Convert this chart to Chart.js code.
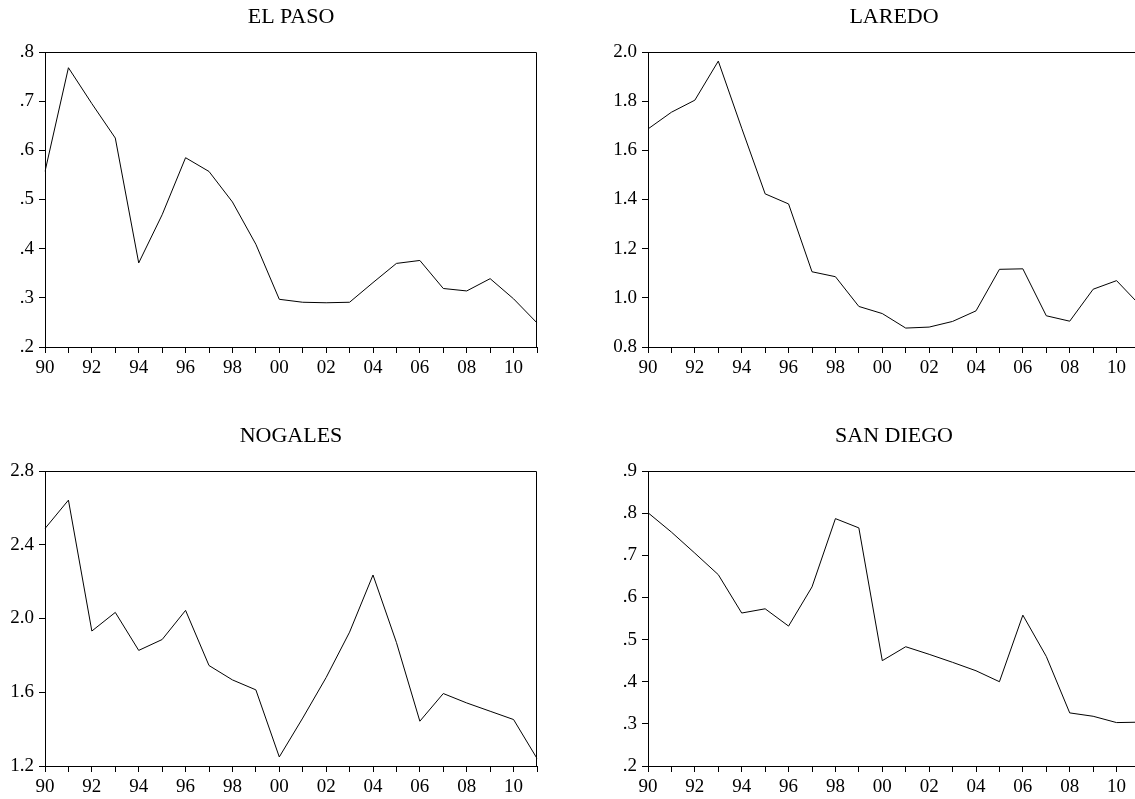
<!DOCTYPE html>
<html><head><meta charset="utf-8">
<script src="https://cdn.jsdelivr.net/npm/chart.js@4"></script>
<style>
html,body{margin:0;padding:0;background:#fff;overflow:hidden;width:1135px;height:799px;position:relative;}
canvas{position:absolute;}
</style></head><body>
<canvas id="c1" width="570" height="390" style="left:0;top:0"></canvas>
<canvas id="c2" width="570" height="390" style="left:600px;top:0"></canvas>
<canvas id="c3" width="570" height="390" style="left:0;top:419px"></canvas>
<canvas id="c4" width="570" height="390" style="left:600px;top:419px"></canvas>
<script>
const yearLabels = ['90','91','92','93','94','95','96','97','98','99','00','01','02','03','04','05','06','07','08','09','10','11'];

const elPaso   = [0.557,0.768,0.695,0.625,0.371,0.469,0.585,0.557,0.495,0.409,0.297,0.291,0.290,0.291,0.331,0.370,0.376,0.319,0.314,0.339,0.298,0.249];
const laredo   = [1.687,1.755,1.804,1.963,1.690,1.423,1.382,1.106,1.086,0.965,0.936,0.877,0.881,0.904,0.947,1.116,1.118,0.927,0.905,1.035,1.070,0.970];
const nogales  = [2.488,2.642,1.932,2.033,1.827,1.886,2.044,1.745,1.667,1.613,1.249,1.460,1.680,1.926,2.236,1.870,1.443,1.593,1.542,1.497,1.452,1.241];
const sanDiego = [0.801,0.755,0.705,0.654,0.563,0.573,0.532,0.625,0.787,0.765,0.450,0.483,0.465,0.446,0.426,0.400,0.558,0.460,0.326,0.318,0.303,0.304];

const elPasoTicks   = ['.2','.3','.4','.5','.6','.7','.8'];
const laredoTicks   = ['0.8','1.0','1.2','1.4','1.6','1.8','2.0'];
const nogalesTicks  = ['1.2','1.6','2.0','2.4','2.8'];
const sanDiegoTicks = ['.2','.3','.4','.5','.6','.7','.8','.9'];

const FONT = '"Liberation Serif", "Times New Roman", serif';
const FS = 19;
const TITLE_FS = 22;

const framePlugin = {
  id: 'frame',
  afterDraw(chart, args, opts) {
    const ctx = chart.ctx, a = chart.chartArea;
    ctx.save();
    ctx.strokeStyle = '#000';
    ctx.lineWidth = 1;
    const l = Math.round(a.left) + 0.5, r = Math.round(a.right) - 0.5;
    const t = Math.round(a.top) + 0.5, b = Math.round(a.bottom) + 0.5;
    ctx.beginPath();
    ctx.moveTo(l, t); ctx.lineTo(r, t); ctx.lineTo(r, b);
    ctx.stroke();
    ctx.fillStyle = '#000';
    ctx.font = TITLE_FS + 'px ' + FONT;
    ctx.textAlign = 'center';
    ctx.textBaseline = 'middle';
    ctx.fillText(opts.text, (a.left + a.right) / 2, a.top - 35);
    ctx.restore();
  }
};

function makeChart(id, title, data, min, max, step, tickLabels, yWidth, padRight) {
  new Chart(document.getElementById(id), {
    type: 'line',
    data: {
      labels: yearLabels,
      datasets: [{ data: data, borderColor: '#000', borderWidth: 1, pointRadius: 0, tension: 0, fill: false }]
    },
    options: {
      responsive: false,
      animation: false,
      layout: { padding: { top: 52, right: padRight, left: 0, bottom: 0 } },
      plugins: { legend: { display: false }, tooltip: { enabled: false }, frame: { text: title } },
      scales: {
        x: {
          type: 'category',
          offset: false,
          afterFit(s) { s.height = 43; },
          grid: { display: true, drawOnChartArea: false, drawTicks: true, tickLength: 6, color: '#000', offset: false },
          border: { display: true, color: '#000', width: 1 },
          ticks: {
            autoSkip: false, maxRotation: 0, color: '#000', padding: 4,
            font: { family: FONT, size: FS },
            callback: (v, i) => (i % 2 === 0 ? yearLabels[i] : '')
          }
        },
        y: {
          min: min, max: max,
          afterFit(s) { s.width = yWidth; },
          grid: { display: true, drawOnChartArea: false, drawTicks: true, tickLength: 6, color: '#000' },
          border: { display: true, color: '#000', width: 1 },
          ticks: {
            stepSize: step, color: '#000', padding: 5,
            font: { family: FONT, size: FS },
            callback: (v, i) => tickLabels[i]
          }
        }
      }
    },
    plugins: [framePlugin]
  });
}

makeChart('c1', 'EL PASO',   elPaso,   0.2, 0.8, 0.1, elPasoTicks,   45, 33);
makeChart('c2', 'LAREDO',    laredo,   0.8, 2.0, 0.2, laredoTicks,   48, 30);
makeChart('c3', 'NOGALES',   nogales,  1.2, 2.8, 0.4, nogalesTicks,  45, 33);
makeChart('c4', 'SAN DIEGO', sanDiego, 0.2, 0.9, 0.1, sanDiegoTicks, 48, 30);
</script>
</body></html>
